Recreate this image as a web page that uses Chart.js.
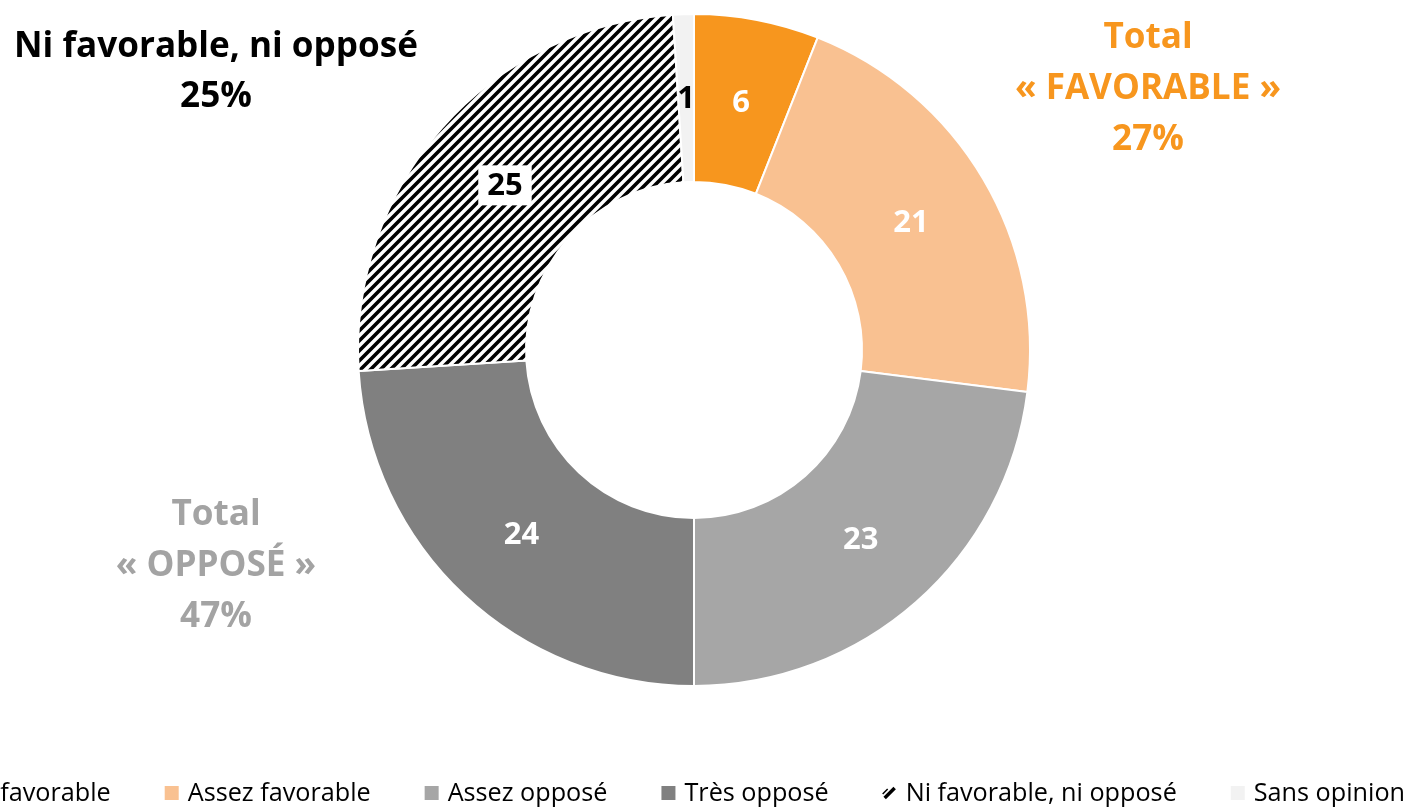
<!DOCTYPE html>
<html><head><meta charset="utf-8">
<script src="https://cdn.jsdelivr.net/npm/chart.js@4"></script>
<style>html,body{margin:0;padding:0;background:#fff;overflow:hidden}#wrap{width:1418px;height:808px;position:relative}</style>
</head><body><div id="wrap"><canvas id="c" width="1418" height="808"></canvas></div>
<script>
const labels = ['Très favorable','Assez favorable','Assez opposé','Très opposé','Ni favorable, ni opposé','Sans opinion'];
const values = [6, 21, 23, 24, 25, 1];
const favorableIdx = [0, 1];
const opposeIdx = [2, 3];
const neutralIdx = 4;

const FONT = '"Open Sans"';
const ORANGE = '#F7961E';
const GREY_TXT = '#A3A3A3';

function hatch() {
  const s = 10, c = document.createElement('canvas');
  c.width = s; c.height = s;
  const x = c.getContext('2d');
  x.fillStyle = '#fff'; x.fillRect(0,0,s,s);
  x.strokeStyle = '#000'; x.lineWidth = 3.6;
  x.beginPath();
  x.moveTo(-s/2, s/2); x.lineTo(s/2, -s/2);
  x.moveTo(0, s); x.lineTo(s, 0);
  x.moveTo(s/2, s*1.5); x.lineTo(s*1.5, s/2);
  x.stroke();
  return x.createPattern(c, 'repeat');
}
const ctx0 = document.getElementById('c').getContext('2d');
const hatchPat = hatch();
const colors = [ORANGE, '#F9C191', '#A6A6A6', '#808080', hatchPat, '#F2F2F2'];
const labelColors = ['#fff','#fff','#fff','#fff','#000','#000'];

const sum = idx => idx.reduce((a,i)=>a+values[i],0);

function fitSize(ctx, weight, text, width) {
  ctx.save(); ctx.font = `${weight} 100px ${FONT}`;
  const w = ctx.measureText(text).width; ctx.restore();
  return 100 * width / w;
}

const labelPlugin = {
  id: 'lbls',
  afterDatasetsDraw(chart) {
    const ctx = chart.ctx;
    const meta = chart.getDatasetMeta(0);
    ctx.save();
    ctx.font = `bold 31px ${FONT}`;
    ctx.textAlign = 'center'; ctx.textBaseline = 'middle';
    meta.data.forEach((arc, i) => {
      const p = arc.getCenterPoint();
      const t = String(values[i]);
      let px = p.x, py = p.y;
      if (i === neutralIdx) {
        py += 2;
        const w = ctx.measureText(t).width + 18;
        ctx.fillStyle = '#fff';
        ctx.fillRect(px - w/2, py - 20, w, 40);
      }
      ctx.fillStyle = labelColors[i];
      ctx.fillText(t, px, py + 1);
    });
    ctx.restore();
  }
};

const annotPlugin = {
  id: 'annot',
  afterDraw(chart) {
    const ctx = chart.ctx;
    ctx.save();
    ctx.textAlign = 'center'; ctx.textBaseline = 'middle';
    const fs = Math.min(36, fitSize(ctx, 'bold', labels[neutralIdx], 404));
    ctx.font = `bold ${fs}px ${FONT}`;
    ctx.fillStyle = ORANGE;
    ['Total', '« FAVORABLE »', sum(favorableIdx) + '%'].forEach((t, k) => ctx.fillText(t, 1148, 38 + k*51));
    ctx.fillStyle = '#000';
    [labels[neutralIdx], values[neutralIdx] + '%'].forEach((t, k) => ctx.fillText(t, 216, 47 + k*50));
    ctx.fillStyle = GREY_TXT;
    ['Total', '« OPPOSÉ »', sum(opposeIdx) + '%'].forEach((t, k) => ctx.fillText(t, 216, 515 + k*51));
    ctx.restore();
  }
};

const legendPlugin = {
  id: 'leg',
  afterDraw(chart) {
    const ctx = chart.ctx;
    ctx.save();
    const fs = Math.min(26, fitSize(ctx, 'normal', labels[1], 183));
    ctx.font = `${fs}px ${FONT}`;
    ctx.textBaseline = 'middle';
    const box = 14, gapBT = 9, gapItem = 54, y = 793;
    let right = 1405;
    for (let i = labels.length - 1; i >= 0; i--) {
      const w = ctx.measureText(labels[i]).width;
      const tx = right - w;
      const bx = tx - gapBT - box;
      if (colors[i] === hatchPat) {
        ctx.fillStyle = '#fff';
        ctx.fillRect(bx, y - box/2, box, box);
        ctx.strokeStyle = '#000'; ctx.lineWidth = 3.5;
        ctx.beginPath();
        ctx.moveTo(bx + 2, y + box/2 - 2); ctx.lineTo(bx + box - 2, y - box/2 + 2);
        ctx.stroke();
        ctx.lineWidth = 1.5;
        ctx.beginPath();
        ctx.moveTo(bx, y + 1); ctx.lineTo(bx + 5, y - 4);
        ctx.stroke();
      } else {
        ctx.fillStyle = colors[i];
        ctx.fillRect(bx, y - box/2, box, box);
      }
      ctx.fillStyle = '#000';
      ctx.fillText(labels[i], tx, y + 1);
      right = bx - gapItem;
    }
    ctx.restore();
  }
};

new Chart(document.getElementById('c'), {
  type: 'doughnut',
  data: { labels, datasets: [{ data: values, backgroundColor: colors, borderColor: '#fff', borderWidth: 2, hoverOffset: 0 }] },
  options: {
    responsive: false, animation: false, cutout: '50%',
    layout: { padding: { left: 357, right: 387, top: 13, bottom: 121 } },
    plugins: { legend: { display: false }, tooltip: { enabled: false } }
  },
  plugins: [labelPlugin, annotPlugin, legendPlugin]
});
</script></body></html>
